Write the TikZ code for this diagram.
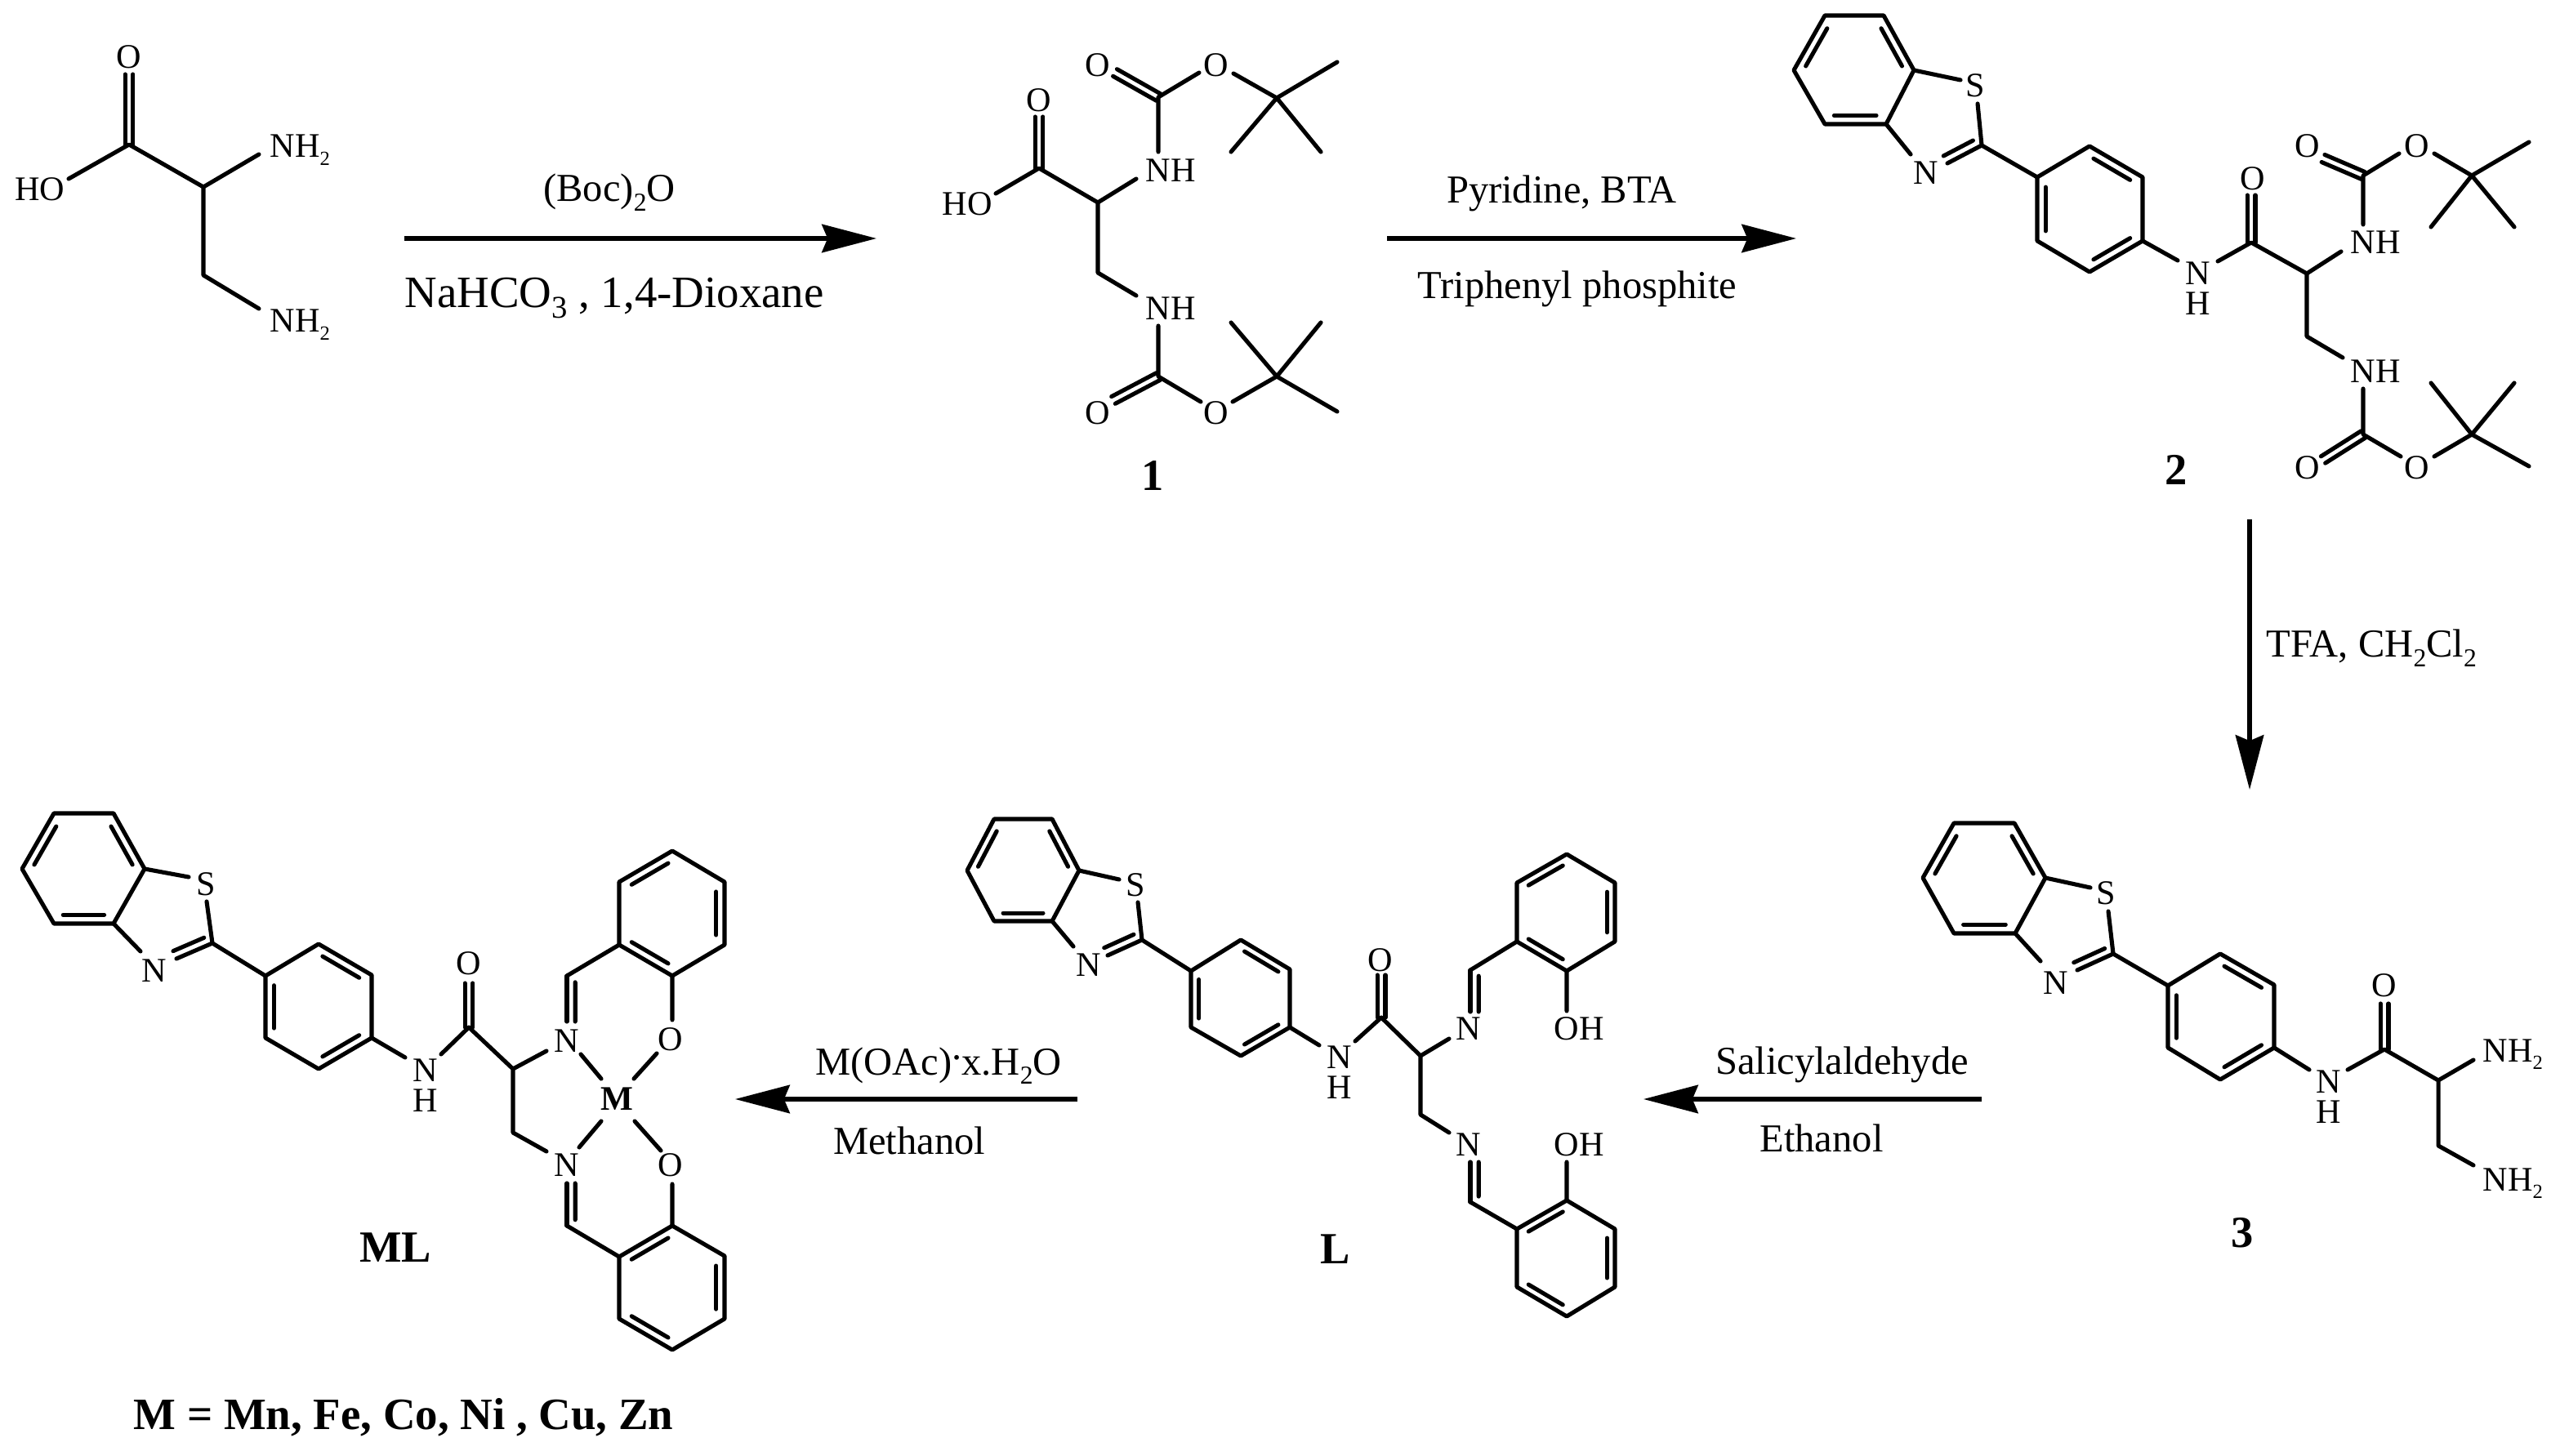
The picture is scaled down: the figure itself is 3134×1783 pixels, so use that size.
\documentclass[tikz,border=0pt]{standalone}
\usepackage{fontspec}
\setmainfont{Liberation Serif}
\usetikzlibrary{calc,arrows.meta}
\tikzset{
  bond/.style={line width=1.45pt,line join=round,line cap=round},
  rxnarrow/.style={line width=1.45pt,-{Stealth[length=19pt,width=9.8pt,inset=2pt]}},
  atomlabel/.style={inner sep=0pt,font=\fontsize{12}{12}\selectfont},
  stacklabel/.style={inner sep=0pt,align=center,font=\fontsize{12}{10.5}\selectfont},
  aminelabel/.style={inner sep=0pt,anchor=base west,font=\fontsize{12}{12}\selectfont},
  rxntext/.style={inner sep=0pt,anchor=base,font=\fontsize{13.8}{15}\selectfont},
  rxnbig/.style={inner sep=0pt,anchor=base west,font=\fontsize{15.6}{18}\selectfont},
  cpdlabel/.style={inner sep=0pt,font=\fontsize{15.5}{16}\selectfont\bfseries},
}
\newcommand{\subsm}[1]{\raisebox{-.5ex}{\fontsize{7}{7}\selectfont #1}}
\newcommand{\submd}[1]{\raisebox{-.5ex}{\fontsize{9}{9}\selectfont #1}}
\newcommand{\pts}[1]{\foreach \pn/\px/\py in {#1}{\coordinate (\pn) at (\px,\py);}}
% symmetric double bond
\newcommand{\dbond}[2]{%
  \draw[bond] ($(#1)!1.4pt!90:(#2)$) -- ($(#2)!1.4pt!-90:(#1)$);
  \draw[bond] ($(#1)!1.4pt!-90:(#2)$) -- ($(#2)!1.4pt!90:(#1)$);}
% main line plus inner line, on the visual left of a->b
\newcommand{\ldbond}[2]{%
  \draw[bond] (#1) -- (#2);
  \draw[bond] ($(#1)!.14!(#2)!2.9pt!90:(#2)$) -- ($(#2)!.0!(#1)!2.9pt!-90:(#1)$);}
\newcommand{\rdbond}[2]{%
  \draw[bond] (#1) -- (#2);
  \draw[bond] ($(#1)!.14!(#2)!2.9pt!-90:(#2)$) -- ($(#2)!.0!(#1)!2.9pt!90:(#1)$);}
\newcommand{\inbond}[3]{\draw[bond] ($(#1)!.09!(#2)!.16!(#3)$) -- ($(#2)!.09!(#1)!.16!(#3)$);}
% hexagon: name, six vertices; double bonds 1-2, 3-4, 5-6
\newcommand{\hexring}[7]{%
  \coordinate (#1-1) at (#2); \coordinate (#1-2) at (#3); \coordinate (#1-3) at (#4);
  \coordinate (#1-4) at (#5); \coordinate (#1-5) at (#6); \coordinate (#1-6) at (#7);
  \coordinate (#1-c) at ($(#1-1)!.5!(#1-4)$);
  \draw[bond] (#1-1) -- (#1-2) -- (#1-3) -- (#1-4) -- (#1-5) -- (#1-6) -- cycle;
  \inbond{#1-1}{#1-2}{#1-c}\inbond{#1-3}{#1-4}{#1-c}\inbond{#1-5}{#1-6}{#1-c}}
\begin{document}
\begin{tikzpicture}[x=0.01cm,y=-0.01cm]
\useasboundingbox (0,0) rectangle (3134,1783);

% ---------- diamine acid
\pts{Ac/158/177,Ao/158/91,Ah/84/219,Ach/249/229,An1/317/189,Acc/249/337,An2/317/378}
\dbond{Ac}{Ao}
\draw[bond] (Ah) -- (Ac) -- (Ach) -- (An1) (Ach) -- (Acc) -- (An2);
\node[atomlabel] (AO) at (158,70) {O};
\node[atomlabel] (AHO) at (49,232) {HO};
\node[aminelabel] (AN1) at (330,193) {NH\subsm{2}};
\node[aminelabel] (AN2) at (330,407) {NH\subsm{2}};

% ---------- arrow 1
\pts{R1a/495/292,R1b/1073/292}
\draw[rxnarrow] (R1a) -- (R1b);
\node[rxntext] (T1a) at (746,247) {(Boc)\submd{2}O};
\node[rxnbig] (T1b) at (495,377) {NaHCO\raisebox{-.5ex}{\fontsize{11}{11}\selectfont 3} , 1,4-Dioxane};

% ---------- compound 1
\pts{Bh/1219/237,Bc/1272/206,Bo/1272/143,Bch/1344/248,Bn1/1391/219,Bcc/1344/334,Bn2/1391/362,
 Bu/1418/119,Bun/1418/186,Bud/1365/89,Buo/1468/89,Buo2/1510/90,Buq/1563/120,Bum1/1637/76,Bum2/1507/186,Bum3/1617/186,
 Bl/1418/461,Bln/1418/399,Bld/1363/490,Blo/1470/492,Blo2/1509/492,Blq/1563/461,Blm1/1637/504,Blm2/1507/395,Blm3/1617/395}
\dbond{Bc}{Bo}\dbond{Bu}{Bud}\dbond{Bl}{Bld}
\draw[bond] (Bh) -- (Bc) -- (Bch) -- (Bn1) (Bch) -- (Bcc) -- (Bn2)
  (Bun) -- (Bu) -- (Buo) (Buo2) -- (Buq) -- (Bum1) (Buq) -- (Bum2) (Buq) -- (Bum3)
  (Bln) -- (Bl) -- (Blo) (Blo2) -- (Blq) -- (Blm1) (Blq) -- (Blm2) (Blq) -- (Blm3);
\node[atomlabel] (BHO) at (1184,250) {HO};
\node[atomlabel] (BO) at (1272,123) {O};
\node[atomlabel] (BN1) at (1433,209) {NH};
\node[atomlabel] (BN2) at (1433,378) {NH};
\node[atomlabel] (BO1) at (1344,80) {O};
\node[atomlabel] (BO2) at (1489,80) {O};
\node[atomlabel] (BO3) at (1344,506) {O};
\node[atomlabel] (BO4) at (1489,506) {O};
\node[cpdlabel] (Bname) at (1411,583) {1};

% ---------- arrow 2
\pts{R2a/1698/292,R2b/2199/292}
\draw[rxnarrow] (R2a) -- (R2b);
\node[rxntext] (T2a) at (1912,249) {Pyridine, BTA};
\node[rxntext] (T2b) at (1931,366) {Triphenyl phosphite};

% ---------- compound 2
\hexring{Cb}{2196,86}{2234,19}{2306,19}{2343,86}{2309,152}{2234,152}
\hexring{Cp}{2558,179}{2623,217}{2623,295}{2558,333}{2494,295}{2494,217}
\pts{Cs1/2400/98,Cs2/2421/127,Ct/2426/178,Cn/2339/189,Cnd/2384/200,
 Cna/2666/319,Cnb/2715/320,Cco/2756/297,Cod/2756/239,Cch/2824/335,Cn1/2866/308,Ccc/2824/412,Cn2/2868/438,
 Cu/2893/215,Cun/2893/275,Cud/2844/194,Cuo/2937/188,Cuo2/2980/188,Cuq/3026/215,Cum1/3096/174,Cum2/2976/278,Cum3/3078/278,
 Cl/2893/532,Cln/2893/476,Cld/2844/563,Clo/2939/559,Clo2/2980/559,Clq/3026/532,Clm1/3096/571,Clm2/2976/469,Clm3/3078/469}
\rdbond{Ct}{Cnd}\dbond{Cco}{Cod}\dbond{Cu}{Cud}\dbond{Cl}{Cld}
\draw[bond] (Cb-4) -- (Cs1) (Cs2) -- (Ct) (Cb-5) -- (Cn) (Ct) -- (Cp-6) (Cp-3) -- (Cna)
  (Cnb) -- (Cco) -- (Cch) -- (Cn1) (Cch) -- (Ccc) -- (Cn2)
  (Cun) -- (Cu) -- (Cuo) (Cuo2) -- (Cuq) -- (Cum1) (Cuq) -- (Cum2) (Cuq) -- (Cum3)
  (Cln) -- (Cl) -- (Clo) (Clo2) -- (Clq) -- (Clm1) (Clq) -- (Clm2) (Clq) -- (Clm3);
\node[atomlabel] (CS) at (2418,105) {S};
\node[atomlabel] (CN) at (2358,212) {N};
\node[stacklabel] (CNH) at (2691,353) {N\\H};
\node[atomlabel] (CO) at (2758,219) {O};
\node[atomlabel] (CN1) at (2908,297) {NH};
\node[atomlabel] (CN2) at (2908,455) {NH};
\node[atomlabel] (CO1) at (2825,179) {O};
\node[atomlabel] (CO2) at (2959,179) {O};
\node[atomlabel] (CO3) at (2825,573) {O};
\node[atomlabel] (CO4) at (2959,573) {O};
\node[cpdlabel] (Cname) at (2664,575) {2};

% ---------- arrow 3
\pts{R3a/2754/636,R3b/2754/967}
\draw[rxnarrow] (R3a) -- (R3b);
\node[rxntext,anchor=base west] (T3) at (2774,805) {TFA, CH\submd{2}Cl\submd{2}};

% ---------- compound 3
\hexring{Db}{2354,1075}{2392,1008}{2466,1008}{2504,1075}{2467,1143}{2392,1143}
\hexring{Dp}{2718,1168}{2784,1206}{2784,1283}{2718,1322}{2654,1283}{2654,1207}
\pts{Ds1/2559/1087,Ds2/2581/1116,Dt/2587/1168,Dn/2498/1177,Dnd/2543/1188,
 Dna/2827/1310,Dnb/2874/1310,Dco/2919/1285,Dod/2919/1229,Dch/2985/1323,Dn1/3028/1298,Dcc/2985/1403,Dn2/3028/1427}
\rdbond{Dt}{Dnd}\dbond{Dco}{Dod}
\draw[bond] (Db-4) -- (Ds1) (Ds2) -- (Dt) (Db-5) -- (Dn) (Dt) -- (Dp-6) (Dp-3) -- (Dna)
  (Dnb) -- (Dco) -- (Dch) -- (Dn1) (Dch) -- (Dcc) -- (Dn2);
\node[atomlabel] (DS) at (2578,1094) {S};
\node[atomlabel] (DN) at (2517,1204) {N};
\node[stacklabel] (DNH) at (2851,1343) {N\\H};
\node[atomlabel] (DO) at (2919,1207) {O};
\node[aminelabel] (DN1) at (3039,1300) {NH\subsm{2}};
\node[aminelabel] (DN2) at (3039,1458) {NH\subsm{2}};
\node[cpdlabel] (Dname) at (2745,1510) {3};

% ---------- arrow 4
\pts{R4a/2426/1346,R4b/2012/1346}
\draw[rxnarrow] (R4a) -- (R4b);
\node[rxntext] (T4a) at (2255,1315) {Salicylaldehyde};
\node[rxntext] (T4b) at (2230,1410) {Ethanol};

% ---------- ligand L
\hexring{Eb}{1184,1066}{1217,1003}{1288,1003}{1321,1066}{1288,1128}{1217,1128}
\hexring{Ep}{1519,1151}{1579,1187}{1579,1258}{1519,1293}{1458,1258}{1458,1189}
\hexring{Eu}{1857,1081}{1918,1046}{1977,1081}{1977,1153}{1918,1189}{1857,1153}
\hexring{El}{1857,1505}{1918,1470}{1977,1505}{1977,1576}{1918,1612}{1857,1576}
\pts{Es1/1370/1077,Es2/1393/1105,Et/1398/1151,En/1314/1159,End/1356/1170,
 Ena/1615/1280,Enb/1659/1275,Eco/1691/1246,Eod/1691/1194,Ech/1739/1293,En1/1774/1272,Ecc/1739/1365,En2/1774/1387,
 Eic/1800/1188,Ein/1800/1239,Ejc/1800/1472,Ejn/1800/1423,Eho/1918/1238,Eko/1918/1423}
\rdbond{Et}{End}\dbond{Eco}{Eod}\ldbond{Eic}{Ein}\rdbond{Ejc}{Ejn}
\draw[bond] (Eb-4) -- (Es1) (Es2) -- (Et) (Eb-5) -- (En) (Et) -- (Ep-6) (Ep-3) -- (Ena)
  (Enb) -- (Eco) -- (Ech) -- (En1) (Ech) -- (Ecc) -- (En2)
  (Eic) -- (Eu-6) (Eu-5) -- (Eho) (Ejc) -- (El-1) (El-2) -- (Eko);
\node[atomlabel] (ES) at (1390,1084) {S};
\node[atomlabel] (EN) at (1333,1182) {N};
\node[stacklabel] (ENH) at (1640,1313) {N\\H};
\node[atomlabel] (EO) at (1690,1176) {O};
\node[atomlabel] (EN1) at (1798,1260) {N};
\node[atomlabel] (EN2) at (1798,1402) {N};
\node[atomlabel] (EOH1) at (1933,1260) {OH};
\node[atomlabel] (EOH2) at (1933,1402) {OH};
\node[cpdlabel] (Ename) at (1635,1530) {L};

% ---------- arrow 5
\pts{R5a/1319/1346,R5b/900/1346}
\draw[rxnarrow] (R5a) -- (R5b);
\node[rxntext] (T5a) at (1149,1316) {M(OAc)\raisebox{.85ex}{.}x.H\submd{2}O};
\node[rxntext] (T5b) at (1113,1413) {Methanol};

% ---------- complex ML
\hexring{Fb}{27,1064}{66,996}{139,996}{177,1064}{139,1131}{66,1131}
\hexring{Fp}{390,1156}{455,1194}{455,1271}{390,1309}{325,1271}{325,1195}
\hexring{Fu}{758,1080}{823,1042}{887,1080}{887,1157}{823,1195}{758,1157}
\hexring{Fl}{758,1539}{823,1501}{887,1538}{887,1615}{823,1653}{758,1615}
\pts{Fs1/231/1074,Fs2/253/1104,Ft/260/1155,Fn/172/1165,Fnd/216/1174,
 Fna/496/1295,Fnb/540/1291,Fco/574/1258,Fod/574/1204,Fch/628/1309,Fn1/669/1287,Fcc/628/1387,Fn2/669/1410,
 Fic/694/1195,Fin/694/1251,Fjc/694/1501,Fjn/694/1449,Fho/823/1249,Fko/823/1450,
 Fm1a/711/1291,Fm1b/736/1321,Fm2a/804/1290,Fm2b/776/1321,Fm3a/709/1405,Fm3b/736/1373,Fm4a/809/1409,Fm4b/777/1373}
\rdbond{Ft}{Fnd}\dbond{Fco}{Fod}\ldbond{Fic}{Fin}\rdbond{Fjc}{Fjn}
\draw[bond] (Fb-4) -- (Fs1) (Fs2) -- (Ft) (Fb-5) -- (Fn) (Ft) -- (Fp-6) (Fp-3) -- (Fna)
  (Fnb) -- (Fco) -- (Fch) -- (Fn1) (Fch) -- (Fcc) -- (Fn2)
  (Fic) -- (Fu-6) (Fu-5) -- (Fho) (Fjc) -- (Fl-1) (Fl-2) -- (Fko)
  (Fm1a) -- (Fm1b) (Fm2a) -- (Fm2b) (Fm3a) -- (Fm3b) (Fm4a) -- (Fm4b);
\node[atomlabel] (FS) at (252,1083) {S};
\node[atomlabel] (FN) at (189,1189) {N};
\node[stacklabel] (FNH) at (521,1329) {N\\H};
\node[atomlabel] (FO) at (574,1180) {O};
\node[atomlabel] (FN1) at (694,1275) {N};
\node[atomlabel] (FN2) at (694,1427) {N};
\node[atomlabel] (FO1) at (821,1273) {O};
\node[atomlabel] (FO2) at (821,1427) {O};
\node[atomlabel,font=\fontsize{12}{12}\selectfont\bfseries] (FM) at (755,1346) {M};
\node[cpdlabel] (Fname) at (484,1528) {ML};
\node[cpdlabel,font=\fontsize{15.6}{16}\selectfont\bfseries,anchor=base] (Fmetals) at (494,1750) {M = Mn, Fe, Co, Ni , Cu, Zn};
\end{tikzpicture}
\end{document}
